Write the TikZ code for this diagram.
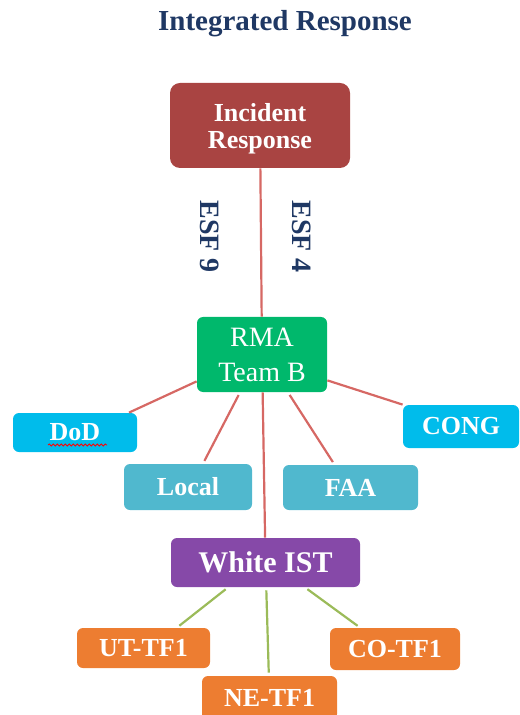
\documentclass[tikz,border=0pt]{standalone}
\usepackage{fontspec}
\setmainfont{Liberation Serif}
\usetikzlibrary{decorations.pathmorphing}

\definecolor{navy}{RGB}{31,56,100}
\definecolor{brick}{RGB}{169,68,66}
\definecolor{redline}{RGB}{214,104,100}
\definecolor{rmagreen}{RGB}{0,184,108}
\definecolor{skyblue}{RGB}{0,188,235}
\definecolor{agencyblue}{RGB}{80,184,206}
\definecolor{istpurple}{RGB}{134,73,168}
\definecolor{tforange}{RGB}{237,125,49}
\definecolor{greenline}{RGB}{155,187,89}

\tikzset{
  box/.style={rounded corners=3pt, text=white, align=center, inner sep=0pt,
    font=\bfseries\fontsize{13}{13.5}\selectfont},
  link/.style={redline, line width=1.1pt},
  tflink/.style={greenline, line width=1.1pt, shorten >=1.5pt, shorten <=1.5pt},
  squiggle/.style={red, line width=0.4pt, decorate,
    decoration={snake, amplitude=0.5pt, segment length=2pt}}
}

\begin{document}
\begin{tikzpicture}[x=0.5pt, y=-0.5pt]
    \useasboundingbox (0,0) rectangle (519,715);

    \node[text=navy, font=\bfseries\fontsize{14.5}{17}\selectfont] (title) at (285,24) {Integrated Response};

    \node[box, fill=brick, rounded corners=5pt, minimum width=90pt, minimum height=42.5pt, text depth=0pt] (IR) at (260,125.5) {Incident\\Response};
    \node[box, fill=rmagreen, minimum width=65pt, minimum height=37.5pt, font=\fontsize{14}{17.5}\selectfont] (RMA) at (262,354.5) {RMA\\Team B};
    \node[box, fill=skyblue, minimum width=62pt, minimum height=19.5pt] (DoD) at (75,432.5) {DoD};
    \node[box, fill=skyblue, minimum width=58pt, minimum height=21.5pt] (CONG) at (461,426.5) {CONG};
    \node[box, fill=agencyblue, minimum width=64pt, minimum height=23pt] (Local) at (188,487) {Local};
    \node[box, fill=agencyblue, minimum width=67.5pt, minimum height=22.5pt] (FAA) at (350.5,487.5) {FAA};
    \node[box, fill=istpurple, minimum width=94.5pt, minimum height=24.5pt, font=\bfseries\fontsize{15}{15}\selectfont] (IST) at (265.5,562.5) {White IST};
    \node[box, fill=tforange, minimum width=66.5pt, minimum height=20pt] (UT) at (143.5,648) {UT-TF1};
    \node[box, fill=tforange, minimum width=65pt, minimum height=21pt] (CO) at (395,649) {CO-TF1};
    \node[box, fill=tforange, minimum width=67.5pt, minimum height=22pt] (NE) at (269.5,698) {NE-TF1};

    \draw[link] (IR) -- (RMA)
        node[pos=0.46, xshift=-25.5pt, rotate=-90, text=navy, font=\bfseries\fontsize{14}{14}\selectfont]{ESF 9}
        node[pos=0.46, xshift=20.5pt, rotate=-90, text=navy, font=\bfseries\fontsize{14}{14}\selectfont]{ESF 4};
    \draw[link] ([yshift=5.5pt]RMA.south west) -- ([xshift=27pt]DoD.north);
    \draw[link, shorten >=1.5pt, shorten <=1.5pt] ([xshift=-11pt]RMA.south) -- ([xshift=7.5pt]Local.north);
    \draw[link] (RMA) -- (IST);
    \draw[link, shorten >=1.5pt, shorten <=1.5pt] ([xshift=13pt]RMA.south) -- ([xshift=-8pt]FAA.north);
    \draw[link] ([yshift=6pt]RMA.south east) -- (CONG.north west);

    \draw[tflink] ([xshift=-18.75pt]IST.south) -- ([xshift=16.75pt]UT.north);
    \draw[tflink] (IST) -- (NE);
    \draw[tflink] ([xshift=19.75pt]IST.south) -- ([xshift=-17.5pt]CO.north);

    \draw[squiggle] ([xshift=-13.5pt,yshift=-6.25pt]DoD.center) -- ([xshift=16pt,yshift=-6.25pt]DoD.center);
\end{tikzpicture}
\end{document}
